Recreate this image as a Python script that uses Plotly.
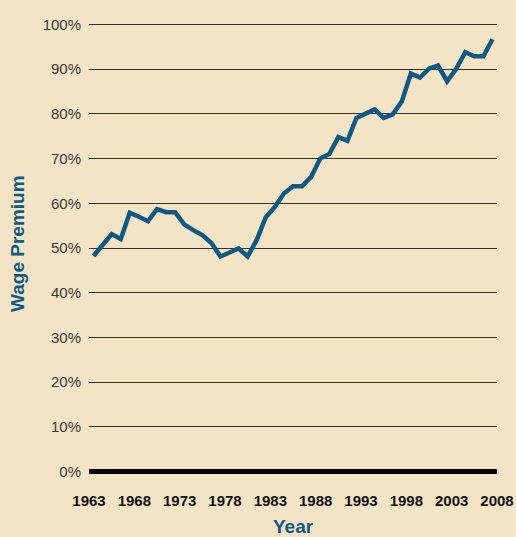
import plotly.graph_objects as go

years = list(range(1963, 2008))
wage_premium = [
    48.2, 50.5, 53.1, 52.0, 57.9, 57.0, 56.0, 58.7, 58.0, 58.0,
    55.3, 54.0, 52.9, 51.1, 48.1, 49.0, 49.9, 48.1, 51.8, 56.9,
    59.2, 62.2, 63.8, 63.8, 65.9, 70.0, 71.0, 74.8, 74.0, 79.1,
    80.0, 81.0, 79.1, 79.9, 82.8, 89.0, 88.1, 90.1, 90.8, 87.3,
    90.1, 93.8, 92.9, 92.9, 96.7,
]
tick_years = [1963, 1968, 1973, 1978, 1983, 1988, 1993, 1998, 2003, 2008]
y_ticks = [0, 10, 20, 30, 40, 50, 60, 70, 80, 90, 100]
y_tick_labels = [f"{v}%" for v in y_ticks]

BG = "#F3E4C6"
TEAL = "#0E5A84"

fig = go.Figure()
fig.add_trace(go.Scatter(
    x=years, y=wage_premium, mode="lines",
    line=dict(color=TEAL, width=4.5), hoverinfo="skip",
))

fig.update_layout(
    template="none",
    width=516, height=537,
    paper_bgcolor=BG, plot_bgcolor=BG,
    margin=dict(l=89, r=19, t=20, b=61),
    showlegend=False,
    font=dict(family="Liberation Sans, Arial, sans-serif"),
    xaxis=dict(
        automargin=False,
        range=[1962.5, 2007.5],
        tickvals=[y - 0.5 for y in tick_years],
        ticktext=[str(y) for y in tick_years],
        showgrid=False, zeroline=False, showline=False,
        ticks="", ticklabelstandoff=14,
        tickfont=dict(size=15, color="#111111", family="Liberation Sans, Arial, sans-serif", weight="bold"),
    ),
    yaxis=dict(
        automargin=False,
        range=[-1, 101],
        tickvals=y_ticks, ticktext=y_tick_labels,
        showgrid=True, gridcolor="#36312b", gridwidth=1.3,
        zeroline=True, zerolinecolor="#000000", zerolinewidth=4.5,
        showline=False, ticks="", ticklabelstandoff=7,
        tickfont=dict(size=15, color="#3a3a3a"),
    ),
    annotations=[
        dict(text="<b>Year</b>", xref="paper", yref="paper", x=0.5, y=0,
             xanchor="center", yanchor="middle", yshift=-50, showarrow=False,
             font=dict(size=19, color=TEAL)),
        dict(text="<b>Wage Premium</b>", xref="paper", yref="paper", x=0, y=0.5,
             xanchor="center", yanchor="middle", xshift=-72, yshift=4, textangle=-90,
             showarrow=False, font=dict(size=19, color=TEAL)),
    ],
)

fig.write_html(
    "out.html",
    config={"displayModeBar": False},
    post_script="document.body.style.margin='0';document.body.style.background='" + BG + "';",
)
